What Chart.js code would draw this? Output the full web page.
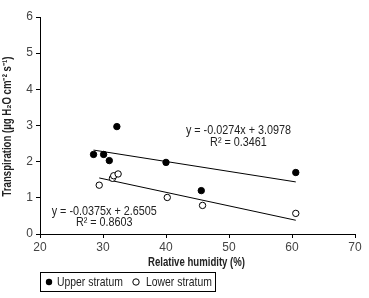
<!DOCTYPE html>
<html>
<head>
<meta charset="utf-8">
<script src="https://cdn.jsdelivr.net/npm/chart.js@4.4.0/dist/chart.umd.min.js"></script>
<style>
  html, body { margin: 0; padding: 0; background: #fff; }
  #wrap { width: 369px; height: 298px; }
</style>
</head>
<body>
<div id="wrap"><canvas id="chart"></canvas></div>
<script>
// valores
const upperHumidity = [28.5, 30.1, 31.0, 32.2, 40.0, 45.6, 60.6];
const upperTransp   = [2.20, 2.20, 2.03, 2.97, 1.98, 1.20, 1.70];
const lowerHumidity = [29.4, 31.5, 31.7, 32.4, 40.2, 45.8, 60.6];
const lowerTransp   = [1.35, 1.54, 1.61, 1.66, 1.01, 0.79, 0.57];

// linhas de tendência (extremos)
const upperTrendX = [28.5, 60.6];
const upperTrendY = [2.32, 1.44];
const lowerTrendX = [29.4, 60.6];
const lowerTrendY = [1.55, 0.38];

const xTicks = [20, 30, 40, 50, 60, 70];
const yTicks = [0, 1, 2, 3, 4, 5, 6];

const FONT = '"Liberation Sans", Arial, sans-serif';
const NARROW = 0.8; // a fonte original é "narrow"

function pts(xs, ys) {
    return xs.map(function (x, i) { return { x: x, y: ys[i] }; });
}

// escreve texto comprimido na horizontal
function narrowText(ctx, text, x, y, align, rot) {
    ctx.save();
    ctx.translate(x, y);
    if (rot) ctx.rotate(rot);
    ctx.scale(NARROW, 1);
    ctx.textAlign = align;
    ctx.textBaseline = 'middle';
    ctx.fillText(text, 0, 0);
    ctx.restore();
}

// títulos, equações e legenda em moldura
const extras = {
    id: 'extras',
    afterDraw: function (chart) {
        const ctx = chart.ctx;
        const xs = chart.scales.x, ys = chart.scales.y;
        ctx.save();
        ctx.fillStyle = '#222';
        ctx.font = '13.5px ' + FONT;
        narrowText(ctx, 'y = -0.0274x + 3.0978', xs.getPixelForValue(51.5), ys.getPixelForValue(2.87), 'center');
        narrowText(ctx, 'R² = 0.3461', xs.getPixelForValue(51.5), ys.getPixelForValue(2.54), 'center');
        narrowText(ctx, 'y = -0.0375x + 2.6505', xs.getPixelForValue(30.2), ys.getPixelForValue(0.64), 'center');
        narrowText(ctx, 'R² = 0.8603', xs.getPixelForValue(30.2), ys.getPixelForValue(0.33), 'center');

        // títulos dos eixos
        ctx.font = 'bold 12px ' + FONT;
        narrowText(ctx, 'Relative humidity (%)', (xs.left + xs.right) / 2 - 1, 263, 'center');
        narrowText(ctx, 'Transpiration (µg H₂O cm⁻² s⁻¹)', 8, (ys.top + ys.bottom) / 2 + 1, 'center', -Math.PI / 2);

        // legenda
        const lx = xs.left, ly = 272;
        ctx.strokeStyle = '#000';
        ctx.lineWidth = 1;
        ctx.strokeRect(lx + 0.5, ly + 0.5, 175, 19);
        ctx.beginPath();
        ctx.arc(lx + 9, ly + 10, 3.2, 0, Math.PI * 2);
        ctx.fillStyle = '#000';
        ctx.fill();
        ctx.fillStyle = '#222';
        ctx.font = '13px ' + FONT;
        narrowText(ctx, 'Upper stratum', lx + 17, ly + 10, 'left');
        ctx.beginPath();
        ctx.arc(lx + 96, ly + 10, 3.2, 0, Math.PI * 2);
        ctx.strokeStyle = '#000';
        ctx.stroke();
        narrowText(ctx, 'Lower stratum', lx + 106, ly + 10, 'left');
        ctx.restore();
    }
};

const ctx = document.getElementById('chart').getContext('2d');
new Chart(ctx, {
    type: 'scatter',
    data: {
        datasets: [
            {
                label: 'Upper stratum',
                data: pts(upperHumidity, upperTransp),
                pointRadius: 3.2,
                pointBackgroundColor: '#000',
                pointBorderColor: '#000',
                pointBorderWidth: 1
            },
            {
                label: 'Lower stratum',
                data: pts(lowerHumidity, lowerTransp),
                pointRadius: 3.2,
                pointBackgroundColor: '#fff',
                pointBorderColor: '#000',
                pointBorderWidth: 1
            },
            {
                label: 'trend upper',
                data: pts(upperTrendX, upperTrendY),
                showLine: true,
                pointRadius: 0,
                borderColor: '#000',
                borderWidth: 1
            },
            {
                label: 'trend lower',
                data: pts(lowerTrendX, lowerTrendY),
                showLine: true,
                pointRadius: 0,
                borderColor: '#000',
                borderWidth: 1
            }
        ]
    },
    options: {
        responsive: true,
        maintainAspectRatio: false,
        animation: false,
        layout: { padding: { left: 0, right: 14, top: 17, bottom: 0 } },
        plugins: {
            legend: { display: false },
            tooltip: { enabled: false }
        },
        scales: {
            x: {
                type: 'linear',
                min: 20, max: 70,
                afterBuildTicks: function (axis) { axis.ticks = xTicks.map(function (v) { return { value: v }; }); },
                afterFit: function (axis) { axis.height = 64; },
                grid: { drawOnChartArea: false, drawTicks: true, tickLength: 4, color: '#000' },
                border: { display: true, color: '#000', width: 1 },
                ticks: { color: '#444', font: { family: FONT, size: 12 }, padding: 2 }
            },
            y: {
                type: 'linear',
                min: 0, max: 6,
                afterBuildTicks: function (axis) { axis.ticks = yTicks.map(function (v) { return { value: v }; }); },
                afterFit: function (axis) { axis.width = 40; },
                grid: { drawOnChartArea: false, drawTicks: true, tickLength: 4, color: '#000' },
                border: { display: true, color: '#000', width: 1 },
                ticks: { color: '#444', font: { family: FONT, size: 12 }, padding: 3 }
            }
        }
    },
    plugins: [extras]
});
</script>
</body>
</html>
